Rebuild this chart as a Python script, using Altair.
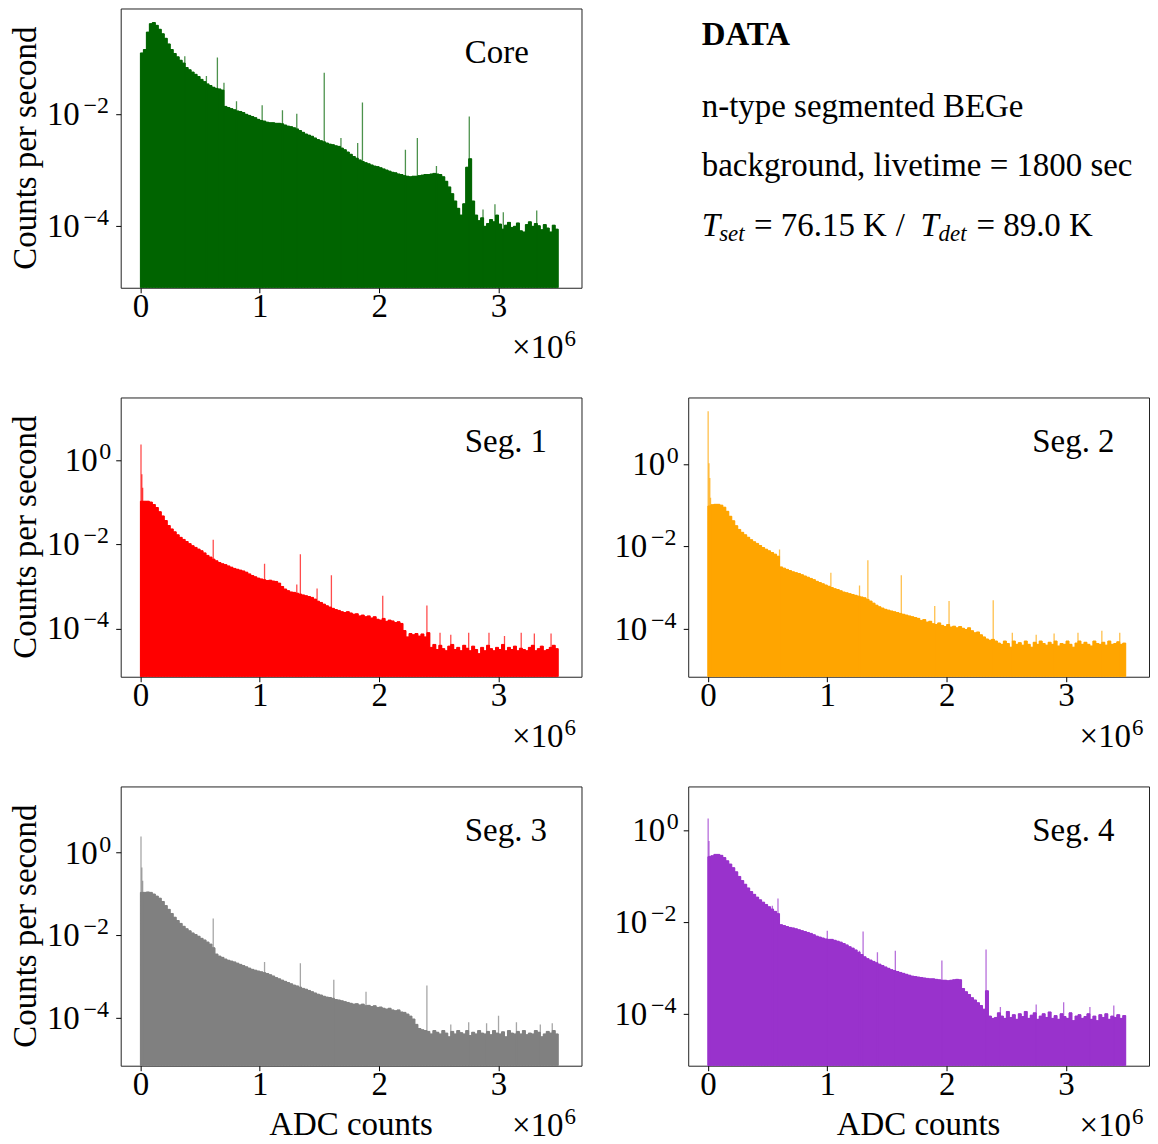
import altair as alt
import pandas as pd

FONT = "Liberation Serif"
PANEL_W, PANEL_H = 462, 280
BIN_WIDTH = 25000
X_DOMAIN = [-165000, 3695000]
X_TICKS = [0, 1000000, 2000000, 3000000]

# ---------------- histogram contents (log10 of counts per second, 25k-ADC bins from 0) -------------
core_log10_cps = [
    -0.92, -0.86, -0.55, -0.40, -0.38, -0.43, -0.50, -0.58, -0.66, -0.76,
    -0.86, -0.93, -0.99, -1.05, -1.10, -1.18, -1.22, -1.26, -1.30, -1.34,
    -1.39, -1.43, -1.47, -1.50, -1.53, -1.55, -1.56, -1.58, -1.87, -1.89,
    -1.91, -1.93, -1.95, -1.96, -1.98, -2.01, -2.03, -2.05, -2.07, -2.10,
    -2.12, -2.13, -2.15, -2.16, -2.16, -2.17, -2.17, -2.18, -2.20, -2.22,
    -2.23, -2.25, -2.27, -2.30, -2.33, -2.36, -2.38, -2.40, -2.43, -2.46,
    -2.48, -2.50, -2.52, -2.54, -2.55, -2.57, -2.58, -2.61, -2.64, -2.68,
    -2.72, -2.76, -2.79, -2.82, -2.85, -2.87, -2.89, -2.91, -2.93, -2.94,
    -2.96, -2.98, -3.00, -3.02, -3.04, -3.05, -3.07, -3.08, -3.10, -3.11,
    -3.12, -3.11, -3.11, -3.10, -3.09, -3.08, -3.08, -3.07, -3.06, -3.07,
    -3.08, -3.12, -3.20, -3.30, -3.42, -3.55, -3.68, -3.80, -3.60, -2.95,
    -2.80, -3.55, -3.80, -3.90, -3.85, -4.00, -3.95, -3.88, -3.92, -3.80,
    -3.96, -4.05, -3.98, -3.93, -4.02, -4.00, -3.94, -4.08, -4.10, -3.97,
    -3.92, -4.00, -3.95, -3.99, -4.06, -3.97, -4.03, -4.10, -3.98, -4.05,
]
seg1_log10_cps = [
    -0.97, -0.97, -0.97, -0.99, -1.05, -1.12, -1.22, -1.32, -1.43, -1.55,
    -1.63, -1.70, -1.77, -1.83, -1.88, -1.93, -1.98, -2.03, -2.07, -2.11,
    -2.15, -2.20, -2.26, -2.30, -2.35, -2.39, -2.43, -2.46, -2.48, -2.51,
    -2.54, -2.57, -2.59, -2.61, -2.63, -2.66, -2.70, -2.74, -2.77, -2.80,
    -2.82, -2.84, -2.86, -2.85, -2.87, -2.88, -2.92, -3.00, -3.06, -3.10,
    -3.13, -3.14, -3.16, -3.18, -3.20, -3.22, -3.24, -3.26, -3.30, -3.35,
    -3.38, -3.42, -3.46, -3.49, -3.52, -3.55, -3.57, -3.60, -3.62, -3.60,
    -3.63, -3.66, -3.65, -3.70, -3.68, -3.72, -3.70, -3.75, -3.72, -3.78,
    -3.80, -3.76, -3.83, -3.80, -3.82, -3.86, -3.84, -3.88, -4.05, -4.20,
    -4.12, -4.15, -4.12, -4.18, -4.13, -4.20, -4.10, -4.45, -4.38, -4.50,
    -4.40, -4.48, -4.53, -4.42, -4.38, -4.50, -4.45, -4.53, -4.40, -4.47,
    -4.53, -4.42, -4.50, -4.60, -4.45, -4.53, -4.40, -4.48, -4.53, -4.45,
    -4.50, -4.38, -4.53, -4.45, -4.50, -4.42, -4.53, -4.47, -4.50, -4.53,
    -4.45, -4.40, -4.53, -4.48, -4.42, -4.53, -4.50, -4.45, -4.40, -4.48,
]
seg2_log10_cps = [
    -1.02, -0.99, -0.98, -0.98, -1.00, -1.05, -1.15, -1.27, -1.38, -1.50,
    -1.59, -1.66, -1.72, -1.78, -1.84, -1.89, -1.93, -1.98, -2.03, -2.07,
    -2.11, -2.15, -2.19, -2.24, -2.50, -2.53, -2.56, -2.59, -2.62, -2.64,
    -2.66, -2.69, -2.72, -2.75, -2.78, -2.81, -2.85, -2.88, -2.91, -2.94,
    -2.97, -3.00, -3.03, -3.05, -3.08, -3.11, -3.13, -3.15, -3.17, -3.19,
    -3.21, -3.23, -3.25, -3.29, -3.33, -3.38, -3.43, -3.47, -3.50, -3.53,
    -3.55, -3.57, -3.59, -3.61, -3.63, -3.65, -3.67, -3.69, -3.71, -3.73,
    -3.75, -3.80, -3.78, -3.84, -3.82, -3.88, -3.90, -3.86, -3.92, -3.95,
    -3.90, -3.96, -3.94, -3.98, -3.95, -3.99, -4.02, -3.98, -4.05, -4.10,
    -4.08, -4.15, -4.20, -4.25, -4.28, -4.26, -4.30, -4.35, -4.38, -4.30,
    -4.36, -4.45, -4.30, -4.38, -4.34, -4.40, -4.30, -4.38, -4.45, -4.33,
    -4.38, -4.30, -4.36, -4.40, -4.33, -4.38, -4.30, -4.42, -4.36, -4.38,
    -4.30, -4.38, -4.45, -4.35, -4.30, -4.38, -4.33, -4.38, -4.42, -4.30,
    -4.36, -4.38, -4.33, -4.40, -4.30, -4.38, -4.36, -4.32, -4.38, -4.35,
]
seg3_log10_cps = [
    -0.96, -0.96, -0.95, -0.96, -1.00, -1.05, -1.10, -1.18, -1.28, -1.37,
    -1.47, -1.56, -1.64, -1.71, -1.78, -1.84, -1.89, -1.94, -1.98, -2.02,
    -2.07, -2.11, -2.16, -2.21, -2.30, -2.45, -2.50, -2.53, -2.57, -2.60,
    -2.62, -2.64, -2.67, -2.70, -2.73, -2.76, -2.79, -2.82, -2.84, -2.86,
    -2.88, -2.90, -2.92, -2.95, -2.98, -3.02, -3.05, -3.08, -3.11, -3.14,
    -3.17, -3.20, -3.22, -3.25, -3.28, -3.30, -3.33, -3.36, -3.39, -3.42,
    -3.44, -3.47, -3.49, -3.50, -3.52, -3.55, -3.56, -3.58, -3.60, -3.62,
    -3.64, -3.66, -3.65, -3.68, -3.66, -3.70, -3.69, -3.72, -3.70, -3.74,
    -3.73, -3.76, -3.78, -3.76, -3.80, -3.82, -3.80, -3.85, -3.86, -3.90,
    -3.95, -4.02, -4.15, -4.25, -4.28, -4.30, -4.32, -4.38, -4.30, -4.34,
    -4.38, -4.30, -4.36, -4.45, -4.32, -4.38, -4.30, -4.35, -4.38, -4.30,
    -4.42, -4.34, -4.38, -4.30, -4.36, -4.38, -4.32, -4.40, -4.30, -4.36,
    -4.38, -4.33, -4.45, -4.30, -4.36, -4.38, -4.32, -4.38, -4.30, -4.40,
    -4.36, -4.38, -4.30, -4.34, -4.45, -4.38, -4.32, -4.36, -4.30, -4.38,
]
seg4_log10_cps = [
    -0.58, -0.56, -0.53, -0.53, -0.55, -0.60, -0.67, -0.74, -0.82, -0.91,
    -1.01, -1.10, -1.18, -1.26, -1.34, -1.40, -1.46, -1.52, -1.57, -1.62,
    -1.67, -1.72, -1.77, -1.82, -2.06, -2.08, -2.10, -2.12, -2.13, -2.15,
    -2.17, -2.19, -2.21, -2.23, -2.25, -2.28, -2.31, -2.33, -2.35, -2.37,
    -2.38, -2.38, -2.40, -2.42, -2.44, -2.47, -2.50, -2.54, -2.57, -2.61,
    -2.66, -2.71, -2.76, -2.80, -2.83, -2.86, -2.89, -2.92, -2.95, -2.98,
    -3.01, -3.04, -3.06, -3.08, -3.10, -3.12, -3.14, -3.16, -3.18, -3.19,
    -3.20, -3.21, -3.22, -3.23, -3.24, -3.24, -3.25, -3.26, -3.27, -3.27,
    -3.28, -3.27, -3.26, -3.25, -3.26, -3.45, -3.52, -3.58, -3.65, -3.70,
    -3.76, -3.82, -3.90, -3.50, -4.05, -4.10, -4.08, -3.98, -4.05, -4.10,
    -3.95, -4.08, -4.02, -4.12, -4.00, -4.06, -3.95, -4.10, -4.03, -3.98,
    -4.12, -4.05, -4.00, -4.08, -3.96, -4.10, -4.04, -4.12, -4.00, -4.06,
    -4.10, -3.98, -4.15, -4.05, -4.02, -4.10, -4.06, -4.00, -4.12, -4.05,
    -4.15, -4.02, -4.08, -4.00, -4.12, -4.05, -4.08, -4.02, -4.10, -4.04,
]

# ---------------- narrow lines (single-bin peaks): ADC position and log10 cps -------------
core_peak_adc = [372000, 553000, 645000, 700000, 805000, 1020000, 1190000, 1310000, 1540000,
                 1680000, 1820000, 1860000, 2220000, 2320000, 2480000, 2755000, 2870000,
                 2970000, 3040000, 3320000]
core_peak_log10 = [-0.98, -1.33, -1.00, -1.45, -1.78, -1.85, -1.94, -2.00, -1.27,
                   -2.43, -2.52, -1.80, -2.64, -2.43, -2.93, -2.05, -3.70,
                   -3.61, -3.75, -3.72]

seg1_peak_adc = [5000, 12000, 19000, 610000, 640000, 1040000, 1310000, 1340000, 1480000,
                 1600000, 2030000, 2400000, 2510000, 2600000, 2750000, 2920000, 3050000,
                 3190000, 3300000, 3440000]
seg1_peak_log10 = [0.38, -0.33, -0.65, -1.89, -2.53, -2.46, -2.95, -2.23, -3.05,
                   -2.73, -3.22, -3.45, -4.10, -4.15, -4.10, -4.10, -4.18,
                   -4.10, -4.12, -4.12]

seg2_peak_adc = [2000, 9000, 16000, 22000, 600000, 1030000, 1270000, 1340000, 1620000,
                 1900000, 2020000, 2390000, 2550000, 2750000, 2900000, 3100000, 3300000, 3450000]
seg2_peak_log10 = [1.28, 0.02, -0.34, -0.82, -2.08, -2.64, -2.95, -2.34, -2.70,
                   -3.45, -3.33, -3.31, -4.10, -4.15, -4.12, -4.10, -4.05, -4.10]

seg3_peak_adc = [5000, 12000, 19000, 610000, 1040000, 1340000, 1620000, 1890000, 2400000,
                 2600000, 2750000, 2900000, 3000000, 3150000, 3350000, 3450000]
seg3_peak_log10 = [0.39, -0.36, -0.68, -1.59, -2.64, -2.67, -3.07, -3.36, -3.21,
                   -4.15, -4.10, -4.12, -3.94, -4.10, -4.15, -4.12]

seg4_peak_adc = [2000, 9000, 16000, 540000, 587000, 1000000, 1270000, 1300000, 1420000,
                 1570000, 1960000, 2330000, 2450000, 2750000, 2980000, 3200000, 3400000]
seg4_peak_log10 = [0.25, -0.24, -0.56, -1.65, -1.49, -2.19, -2.63, -2.21, -2.66,
                   -2.63, -2.84, -2.60, -3.85, -3.80, -3.75, -3.85, -3.82]

# ---------------- axis limits, ticks, labels -------------
core_ydomain = [8.1e-6, 0.74]
seg1_ydomain = [7.1e-6, 31.6]
seg2_ydomain = [6.8e-6, 41.2]
seg3_ydomain = [7.1e-6, 39.8]
seg4_ydomain = [7.4e-6, 8.9]
core_ytick_exps = [-2, -4]
seg_ytick_exps = [0, -2, -4]

panel_labels = ["Core", "Seg. 1", "Seg. 2", "Seg. 3", "Seg. 4"]
panel_colors = ["#006400", "#ff0000", "#ffa500", "#808080", "#9932cc"]
Y_TITLE = "Counts per second"
X_TITLE = "ADC counts"
X_OFFSET_BASE = "×10"
X_OFFSET_EXP = "6"

INFO_TITLE = "DATA"
INFO_LINE1 = "n-type segmented BEGe"
INFO_LINE2 = "background, livetime = 1800 sec"
INFO_T = "T"
INFO_SET = "set"
INFO_TSET_VAL = "= 76.15 K"
INFO_SLASH = "/"
INFO_DET = "det"
INFO_TDET_VAL = "= 89.0 K"


def hist_table(log10_cps):
    start = [i * BIN_WIDTH for i in range(len(log10_cps))]
    end = [(i + 1) * BIN_WIDTH for i in range(len(log10_cps))]
    cps = [10.0 ** v for v in log10_cps]
    return pd.DataFrame({"adc": start, "adc_end": end, "cps": cps})


def step_table(log10_cps):
    # bin edges with the content of the bin that starts there (last edge closes the final bin)
    adc = [i * BIN_WIDTH for i in range(len(log10_cps) + 1)]
    cps = [10.0 ** v for v in log10_cps] + [10.0 ** log10_cps[-1]]
    return pd.DataFrame({"adc": adc, "cps": cps})


def peak_table(adc, log10_cps):
    return pd.DataFrame({"adc": adc, "cps": [10.0 ** v for v in log10_cps]})


def text_layer(text, x, y, size=33, align="left", **kw):
    return alt.Chart(pd.DataFrame({"t": [text]})).mark_text(
        font=FONT, fontSize=size, align=align, baseline="alphabetic", color="black", **kw
    ).encode(text="t:N", x=alt.value(x), y=alt.value(y))


def panel(label, color, log10_cps, peak_adc, peak_log10, ydomain, ytick_exps, y_title, x_title):
    xs = alt.Scale(domain=X_DOMAIN, nice=False, zero=False)
    ys = alt.Scale(type="log", domain=ydomain, nice=False)
    x_axis = alt.Axis(values=X_TICKS, labelExpr="datum.value / 1000000", title=None, grid=False,
                      domain=False, tickSize=5, tickColor="black", tickWidth=1, labelFont=FONT,
                      labelFontSize=33, labelColor="black", labelPadding=-2, labelFlush=False,
                      labelOverlap=False)
    y_axis = alt.Axis(values=[10.0 ** e for e in ytick_exps], labels=False, title=None, grid=False,
                      domain=False, tickSize=5, tickColor="black", tickWidth=1)
    xenc = alt.X("adc:Q", scale=xs, axis=x_axis)
    yenc = alt.Y("cps:Q", scale=ys, axis=y_axis)
    hist = alt.Chart(hist_table(log10_cps)).mark_bar(
        color=color, stroke=color, strokeWidth=1, clip=True
    ).encode(
        x=xenc,
        x2="adc_end:Q",
        y=yenc,
        y2=alt.value(PANEL_H),
    )
    step = alt.Chart(step_table(log10_cps)).mark_area(
        interpolate="step-after", color=color, opacity=1, clip=True
    ).encode(x=xenc, y=yenc, y2=alt.datum(ydomain[0]))
    peaks = alt.Chart(peak_table(peak_adc, peak_log10)).mark_rule(
        color=color, strokeWidth=1.3, opacity=0.7, clip=True
    ).encode(x=xenc, y=yenc, y2=alt.value(PANEL_H))
    ticks = pd.DataFrame({
        "cps": [10.0 ** e for e in ytick_exps],
        "e": ytick_exps,
        "sup": [("\u2212%d" % -e) if e < 0 else str(e) for e in ytick_exps],
    })
    tk = alt.Chart(ticks)
    ylabels = [
        tk.transform_filter("datum.e < 0").mark_text(
            text="10", font=FONT, fontSize=33, align="right", baseline="alphabetic", dy=11, color="black"
        ).encode(y=yenc, x=alt.value(-41)),
        tk.transform_filter("datum.e == 0").mark_text(
            text="10", font=FONT, fontSize=33, align="right", baseline="alphabetic", dy=11, color="black"
        ).encode(y=yenc, x=alt.value(-23)),
        tk.transform_filter("datum.e < 0").mark_text(
            font=FONT, fontSize=24, align="center", baseline="alphabetic", dy=-1, color="black"
        ).encode(text="sup:N", y=yenc, x=alt.value(-24.5)),
        tk.transform_filter("datum.e == 0").mark_text(
            font=FONT, fontSize=24, align="center", baseline="alphabetic", dy=-1, color="black"
        ).encode(text="sup:N", y=yenc, x=alt.value(-15.5)),
    ]
    annots = [
        text_layer(label, 345, 55),
        text_layer(X_OFFSET_BASE, 444, 350, align="right"),
        text_layer(X_OFFSET_EXP, 445, 338, size=23),
    ]
    if y_title:
        annots.append(text_layer(Y_TITLE, -84.5, PANEL_H / 2, align="center", angle=270))
    if x_title:
        annots.append(text_layer(X_TITLE, PANEL_W / 2, 349, align="center"))
    return alt.layer(hist, step, peaks, *ylabels, *annots).properties(width=PANEL_W, height=PANEL_H)


core = panel(panel_labels[0], panel_colors[0], core_log10_cps, core_peak_adc, core_peak_log10,
             core_ydomain, core_ytick_exps, True, False)
seg1 = panel(panel_labels[1], panel_colors[1], seg1_log10_cps, seg1_peak_adc, seg1_peak_log10,
             seg1_ydomain, seg_ytick_exps, True, False)
seg2 = panel(panel_labels[2], panel_colors[2], seg2_log10_cps, seg2_peak_adc, seg2_peak_log10,
             seg2_ydomain, seg_ytick_exps, False, False)
seg3 = panel(panel_labels[3], panel_colors[3], seg3_log10_cps, seg3_peak_adc, seg3_peak_log10,
             seg3_ydomain, seg_ytick_exps, True, True)
seg4 = panel(panel_labels[4], panel_colors[4], seg4_log10_cps, seg4_peak_adc, seg4_peak_log10,
             seg4_ydomain, seg_ytick_exps, False, True)

info = alt.layer(
    text_layer(INFO_TITLE, 13.6, 36.7, fontWeight="bold"),
    text_layer(INFO_LINE1, 13.6, 108.3),
    text_layer(INFO_LINE2, 13.6, 168.3),
    text_layer(INFO_T, 13.6, 228.3, fontStyle="italic"),
    text_layer(INFO_SET, 31, 233.5, size=23, fontStyle="italic"),
    text_layer(INFO_TSET_VAL, 66, 228.3),
    text_layer(INFO_SLASH, 208, 228.3),
    text_layer(INFO_T, 233, 228.3, fontStyle="italic"),
    text_layer(INFO_DET, 251, 233.5, size=23, fontStyle="italic"),
    text_layer(INFO_TDET_VAL, 289, 228.3),
).properties(width=PANEL_W, height=PANEL_H, view=alt.ViewBackground(strokeOpacity=0))

chart = alt.concat(
    core, info, seg1, seg2, seg3, seg4,
    columns=2,
    spacing={"row": 110, "column": 107},
    bounds="flush",
).properties(
    padding={"left": 2, "top": -2, "right": 0, "bottom": 0},
    background="white",
).configure_view(stroke="#222222", strokeWidth=1)

chart.save("out.html", embed_options={"renderer": "svg", "actions": False})
